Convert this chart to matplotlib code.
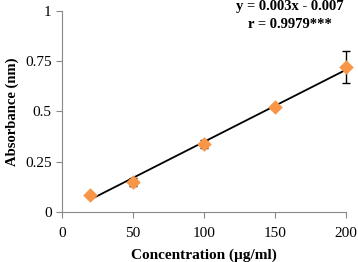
import numpy as np
import matplotlib.pyplot as plt

# concentration vs absorbance
conc = [20, 50, 100, 150, 200]
absorb = [0.085, 0.15, 0.34, 0.52, 0.72]
err = [0.01, 0.02, 0.02, 0.01, 0.08]

plt.rcParams['font.family'] = 'Liberation Serif'

fig = plt.figure(figsize=(3.58, 2.62), dpi=100)
ax = fig.add_axes([0.173, 0.191, 0.793, 0.767])

#trend line from linear fit
m, b = np.polyfit(conc, absorb, 1)
xs = np.array([conc[0], conc[-1]])
ax.plot(xs, m*xs + b, color='black', lw=1.3, zorder=2)

ax.errorbar(conc, absorb, yerr=err, fmt='none', ecolor='black', elinewidth=1, capsize=3, capthick=1, zorder=3, clip_on=False)
ax.scatter(conc, absorb, marker='D', s=55, color='#F79646', zorder=4, linewidths=0, clip_on=False)

ax.set_xlim(0, 200)
ax.set_ylim(0, 1)
ax.set_xticks([0, 50, 100, 150, 200])
ax.set_yticks([0, 0.25, 0.5, 0.75, 1])
ax.set_yticklabels(['0', '0.25', '0.5', '0.75', '1'])
for s in ['top', 'right']:
    ax.spines[s].set_visible(False)
for s in ['left', 'bottom']:
    ax.spines[s].set_color('#888888')
ax.tick_params(axis='both', colors='#888888', labelcolor='black', labelsize=11, length=4)
ax.tick_params(axis='x', length=4, pad=7)

ax.set_xlabel('Concentration (µg/ml)', fontweight='bold', fontsize=11, labelpad=6)
ax.set_ylabel('Absorbance (nm)', fontweight='bold', fontsize=10.5)

fig.text(0.81, 0.975, 'y = 0.003x - 0.007', ha='center', va='center', fontweight='bold', fontsize=10.5)
fig.text(0.81, 0.905, 'r = 0.9979***', ha='center', va='center', fontweight='bold', fontsize=10.5)

plt.savefig('out.png', dpi=100)
